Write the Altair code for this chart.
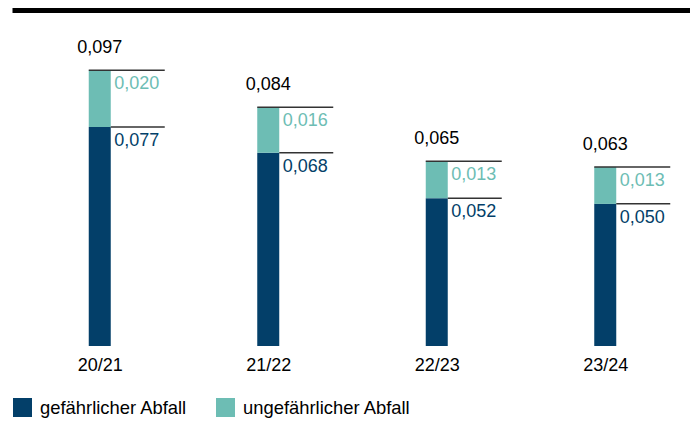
import json
import altair as alt
import pandas as pd

categories = ["20/21", "21/22", "22/23", "23/24"]
hazardous = [0.077, 0.068, 0.052, 0.050]
non_hazardous = [0.020, 0.016, 0.013, 0.013]
totals = [0.097, 0.084, 0.065, 0.063]
series_names = ["gefährlicher Abfall", "ungefährlicher Abfall"]
colors = ["#033f69", "#6dbdb4"]
FONT = "Liberation Sans"


def de(v):
    return f"{v:.3f}".replace(".", ",")


rows = []
for i, c in enumerate(categories):
    base = 0.0
    for name, vals in zip(series_names, [hazardous, non_hazardous]):
        v = vals[i]
        rows.append(dict(idx=i, cat=c, series=name, value=v, y0=base, y1=base + v, label=de(v)))
        base += v
seg = pd.DataFrame(rows)
tot = pd.DataFrame(dict(idx=list(range(len(categories))), cat=categories, total=totals,
                        label=[de(t) for t in totals]))

xscale = alt.Scale(domain=[-0.5, len(categories) - 0.5], nice=False, zero=False, padding=0)
yscale = alt.Scale(domain=[0, 0.1189], nice=False)
cscale = alt.Scale(domain=series_names, range=colors)

xaxis = alt.Axis(values=list(range(len(categories))),
                 labelExpr=f"{json.dumps(categories)}[datum.value]",
                 title=None, domain=False, ticks=False, grid=False,
                 labelFontSize=18, labelFont=FONT, labelColor="#000000",
                 labelPadding=10, labelFlush=False)

base = alt.Chart(seg)

bars = base.mark_bar(size=22).encode(
    x=alt.X("idx:Q", scale=xscale, axis=xaxis),
    y=alt.Y("y1:Q", scale=yscale, axis=None),
    y2="y0:Q",
    color=alt.Color("series:N", scale=cscale,
                    legend=alt.Legend(orient="none", legendX=-2.5, legendY=390,
                                      direction="horizontal", title=None,
                                      symbolType="square", symbolSize=361,
                                      symbolStrokeWidth=0, labelFontSize=18.4,
                                      labelFont=FONT, labelColor="#000000",
                                      labelLimit=400,
                                      labelOffset=8, columnPadding=28, padding=0)),
)

rule_top = base.transform_filter(alt.datum.series == series_names[1]).mark_rule(
    color="#333333", strokeWidth=1.5, xOffset=-11, x2Offset=65
).encode(x=alt.X("idx:Q", scale=xscale), x2="idx:Q", y=alt.Y("y1:Q", scale=yscale))

rule_mid = base.transform_filter(alt.datum.series == series_names[0]).mark_rule(
    color="#333333", strokeWidth=1.5, xOffset=11, x2Offset=65
).encode(x=alt.X("idx:Q", scale=xscale), x2="idx:Q", y=alt.Y("y1:Q", scale=yscale))

seg_text = base.mark_text(align="left", baseline="alphabetic", dx=14.5, dy=19,
                          fontSize=18, font=FONT).encode(
    x=alt.X("idx:Q", scale=xscale),
    y=alt.Y("y1:Q", scale=yscale),
    text="label:N",
    color=alt.Color("series:N", scale=cscale, legend=None),
)

tot_text = alt.Chart(tot).mark_text(align="center", baseline="alphabetic", dy=-17,
                                    fontSize=18, font=FONT, color="#000000").encode(
    x=alt.X("idx:Q", scale=xscale),
    y=alt.Y("total:Q", scale=yscale),
    text="label:N",
)

top_line = alt.Chart(pd.DataFrame({"a": [0]})).mark_rule(color="#000000", strokeWidth=5).encode(
    x=alt.value(-3), x2=alt.value(678), y=alt.value(2.5)
)

chart = alt.layer(bars, rule_top, rule_mid, seg_text, tot_text, top_line).properties(
    width=674, height=338,
    autosize=alt.AutoSizeParams(type="none"),
    padding={"left": 7.5, "top": 0, "right": 0, "bottom": 74},
).configure_view(stroke=None)

chart.save("out.html", embed_options={"renderer": "svg", "actions": False})
